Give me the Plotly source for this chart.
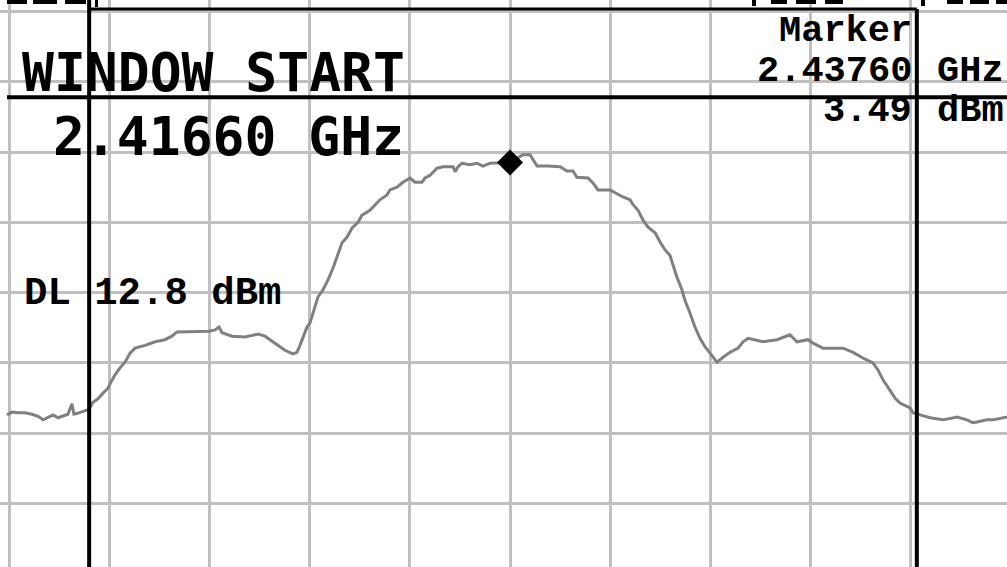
import plotly.graph_objects as go

W, H = 1007, 567

# ---- trace data (frequency in GHz, level in dBm) ----
freq_ghz = [
    2.41250, 2.41275, 2.41305, 2.41340, 2.41375, 2.41405, 2.41430, 2.41455, 2.41480, 2.41505,
    2.41529, 2.41554, 2.41574, 2.41584, 2.41609, 2.41639, 2.41659, 2.41679, 2.41704, 2.41729,
    2.41754, 2.41769, 2.41789, 2.41814, 2.41839, 2.41864, 2.41889, 2.41939, 2.41989, 2.42038,
    2.42073, 2.42098, 2.42163, 2.42213, 2.42258, 2.42288, 2.42308, 2.42323, 2.42373, 2.42438,
    2.42503, 2.42537, 2.42587, 2.42637, 2.42677, 2.42697, 2.42712, 2.42727, 2.42747, 2.42762,
    2.42777, 2.42802, 2.42827, 2.42852, 2.42877, 2.42902, 2.42922, 2.42947, 2.42972, 2.43002,
    2.43021, 2.43061, 2.43086, 2.43111, 2.43146, 2.43161, 2.43196, 2.43226, 2.43261, 2.43286,
    2.43321, 2.43336, 2.43361, 2.43396, 2.43426, 2.43476, 2.43486, 2.43501, 2.43520, 2.43560,
    2.43595, 2.43625, 2.43660, 2.43695, 2.43760, 2.43795, 2.43825, 2.43860, 2.43895, 2.43950,
    2.44010, 2.44044, 2.44074, 2.44094, 2.44149, 2.44174, 2.44199, 2.44259, 2.44284, 2.44324,
    2.44359, 2.44374, 2.44399, 2.44424, 2.44449, 2.44484, 2.44509, 2.44533, 2.44558, 2.44573,
    2.44593, 2.44618, 2.44633, 2.44658, 2.44683, 2.44708, 2.44733, 2.44758, 2.44793, 2.44823,
    2.44858, 2.44898, 2.44923, 2.44948, 2.45022, 2.45092, 2.45157, 2.45192, 2.45247, 2.45272,
    2.45322, 2.45422, 2.45472, 2.45521, 2.45571, 2.45596, 2.45621, 2.45656, 2.45681, 2.45706,
    2.45756, 2.45771, 2.45806, 2.45856, 2.45921, 2.45991, 2.46040, 2.46070, 2.46090, 2.46140,
    2.46170, 2.46220, 2.46240,
]
level_dbm = [
    -32.4, -32.0, -32.1, -32.1, -32.3, -32.6, -33.1, -32.7, -32.4, -32.8,
    -32.6, -32.3, -30.8, -32.3, -32.1, -31.8, -31.6, -30.6, -30.1, -29.3,
    -28.6, -27.7, -26.7, -25.7, -24.9, -23.6, -22.9, -22.5, -22.0, -21.7,
    -21.2, -20.6, -20.6, -20.6, -20.5, -20.3, -19.9, -20.7, -21.2, -21.3,
    -20.9, -21.2, -22.2, -23.2, -23.7, -23.5, -22.5, -21.3, -19.9, -19.3,
    -17.9, -15.6, -14.6, -13.2, -11.5, -9.4, -7.9, -7.1, -5.8, -5.0,
    -4.0, -3.3, -2.5, -1.8, -1.1, -0.4, 0.0, 0.7, 1.3, 0.7,
    0.7, 1.3, 1.7, 2.7, 2.9, 2.9, 2.2, 2.9, 3.4, 3.2,
    3.4, 3.0, 3.4, 3.4, 3.49, 4.1, 4.6, 4.6, 3.0, 3.0,
    2.9, 2.3, 2.3, 1.4, 1.3, 0.6, -0.4, -0.4, -0.8, -1.4,
    -1.8, -2.5, -3.3, -4.7, -5.7, -6.5, -7.8, -8.9, -9.7, -11.1,
    -12.8, -14.6, -16.1, -17.9, -19.9, -21.5, -22.7, -23.6, -24.9, -24.2,
    -23.5, -22.9, -22.0, -21.5, -22.0, -21.7, -21.0, -22.0, -21.7, -22.2,
    -22.9, -22.9, -23.5, -24.3, -25.0, -26.0, -27.4, -28.9, -30.0, -30.7,
    -31.4, -32.1, -32.4, -32.8, -33.1, -32.7, -33.1, -33.5, -33.4, -33.1,
    -33.1, -32.8, -32.7,
]

marker_freq_ghz = [2.43760]
marker_level_dbm = [3.49]
window_start_ghz = 2.41660
window_stop_ghz = 2.45790
display_line_dbm = 12.8

# screen scale: 5 MHz / div horizontally, 10 dB / div vertically
x_range = [2.412151, 2.462400]
y_range = [-54.03, 26.62]


def px(x):
    return x / W


def py(y):
    return 1 - y / H


fig = go.Figure()
fig.add_trace(go.Scatter(
    x=freq_ghz, y=level_dbm, mode="lines",
    line=dict(color="#808080", width=3), hoverinfo="skip", showlegend=False,
))
fig.add_trace(go.Scatter(
    x=marker_freq_ghz, y=marker_level_dbm, mode="markers",
    marker=dict(symbol="diamond", size=20, color="black", line=dict(width=0)),
    hoverinfo="skip", showlegend=False,
))

shapes = [
    # window start / stop lines
    dict(type="line", xref="x", yref="paper", x0=window_start_ghz, x1=window_start_ghz,
         y0=0, y1=1, line=dict(color="black", width=4)),
    dict(type="line", xref="x", yref="paper", x0=window_stop_ghz, x1=window_stop_ghz,
         y0=0, y1=py(9), line=dict(color="black", width=4)),
    # window top border
    dict(type="line", xref="x", yref="paper", x0=window_start_ghz, x1=window_stop_ghz,
         y0=py(9), y1=py(9), line=dict(color="black", width=3)),
    # display line
    dict(type="line", xref="paper", yref="y", x0=px(7), x1=1,
         y0=display_line_dbm, y1=display_line_dbm, line=dict(color="black", width=4)),
]
# clipped text remnants at top edge
for a, b, h in [(7, 27, 4), (33, 57, 4), (65, 86, 4), (95, 98, 7),
                (752, 756, 6), (771, 787, 4), (796, 816, 4), (825, 843, 4),
                (921, 925, 6), (947, 963, 4), (970, 989, 4), (996, 1007, 4)]:
    shapes.append(dict(type="rect", xref="paper", yref="paper", x0=px(a), x1=px(b),
                       y0=py(h), y1=1, fillcolor="black", line=dict(width=0)))

big = dict(family="DejaVu Sans Mono", size=53, color="black", weight="bold")
small = dict(family="Liberation Mono", size=37, color="black", weight="bold")

annotations = [
    dict(text="WINDOW START", x=px(21), y=py(72), xanchor="left", yanchor="middle", font=big),
    dict(text="2.41660 GHz", x=px(52), y=py(137), xanchor="left", yanchor="middle", font=big),
    dict(text="Marker", x=px(913), y=py(31), xanchor="right", yanchor="middle", font=small),
    dict(text="2.43760", x=px(913), y=py(71), xanchor="right", yanchor="middle", font=small),
    dict(text="GHz", x=px(936), y=py(71), xanchor="left", yanchor="middle", font=small),
    dict(text="3.49", x=px(913), y=py(111), xanchor="right", yanchor="middle", font=small),
    dict(text="dBm", x=px(936), y=py(111), xanchor="left", yanchor="middle", font=small),
    dict(text="DL 12.8 dBm", x=px(23), y=py(294), xanchor="left", yanchor="middle",
         font=dict(family="Liberation Mono", size=39, color="black", weight="bold")),
]
for a in annotations:
    a.update(xref="paper", yref="paper", showarrow=False, borderpad=0)

fig.update_layout(
    width=W, height=H,
    margin=dict(l=0, r=0, t=0, b=0),
    paper_bgcolor="white", plot_bgcolor="white",
    xaxis=dict(range=x_range, showgrid=True, gridcolor="#c0c0c0", gridwidth=3,
               tick0=2.4376, dtick=0.005, showticklabels=False, ticks="",
               zeroline=False, showline=False, fixedrange=True),
    yaxis=dict(range=y_range, showgrid=True, gridcolor="#c0c0c0", gridwidth=3,
               tick0=5, dtick=10, showticklabels=False, ticks="",
               zeroline=False, showline=False, fixedrange=True),
    shapes=shapes, annotations=annotations, showlegend=False,
)

fig.write_html(
    "out.html",
    config=dict(displayModeBar=False),
    post_script="document.body.style.margin='0';document.body.style.overflow='hidden';",
)
